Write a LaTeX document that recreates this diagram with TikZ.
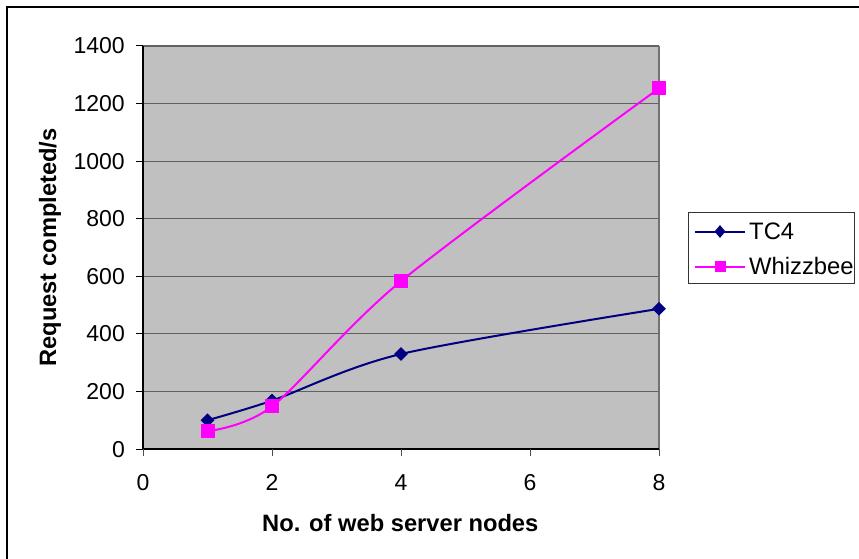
\documentclass[tikz,border=0pt]{standalone}
\usepackage{fontspec}
\setmainfont{Liberation Sans}
\usetikzlibrary{shapes.geometric}
\definecolor{tcblue}{RGB}{0,0,128}
\definecolor{wbmag}{RGB}{255,0,255}
\definecolor{plotgray}{RGB}{192,192,192}
\begin{document}
\begin{tikzpicture}[x=1pt,y=-1pt,
  ticklab/.style={font=\fontsize{23}{27}\selectfont, inner sep=0pt},
  axlab/.style={font=\fontsize{23.7}{28}\selectfont\bfseries, inner sep=0pt},
  grid line/.style={draw=black!62, line width=1.2pt},
  axis line/.style={draw=black, line width=1.3pt},
  tcline/.style={draw=tcblue, line width=2pt},
  wbline/.style={draw=wbmag, line width=2pt},
  tcmark/.style={diamond, fill=tcblue, inner sep=0pt, minimum width=14pt, minimum height=14pt},
  wbmark/.style={rectangle, fill=wbmag, inner sep=0pt, minimum size=14pt},
  tcleg/.style={tcmark, minimum width=11pt, minimum height=13pt},
  wbleg/.style={wbmark, minimum size=11pt}]
\useasboundingbox (0,0) rectangle (859,559);
\fill[white] (0,0) rectangle (859,559);
\begin{scope}
\clip (0,0) rectangle (859,559);
\draw[line width=1.5pt] (7,7) rectangle (880,580);
\end{scope}
% plot area
\fill[plotgray] (143,46) rectangle (659,449);
\foreach \v in {200,400,...,1400}
  \draw[grid line] (143,{449-0.287857*\v}) -- (659,{449-0.287857*\v});
\draw[draw=black!55, line width=1.2pt] (659,46) -- (659,449);
% axes
\draw[axis line] (143,46) -- (143,449) -- (659,449);
\foreach \v in {0,200,...,1400}{
  \draw[line width=1pt] (136,{449-0.287857*\v}) -- (143,{449-0.287857*\v});
  \node[ticklab, anchor=base east] (yl\v) at (125,{449-0.287857*\v+8}) {\v};
}
\foreach \k in {0,2,4,6,8}{
  \draw[line width=1pt, draw=black!70] ({143+64.5*\k},449) -- ({143+64.5*\k},456);
  \node[ticklab, anchor=base] (xl\k) at ({143+64.5*\k},490) {\k};
}
\node[axlab, anchor=base] (xtitle) at (400.3,531.5) {No. of web server nodes};
\node[axlab, anchor=base, rotate=90] (ytitle) at (56,247.5) {Request completed/s};
% data
\coordinate (t1) at ({143+64.5*1},{449-0.287857*100});
\coordinate (t2) at ({143+64.5*2},{449-0.287857*168});
\coordinate (t3) at ({143+64.5*4},{449-0.287857*330});
\coordinate (t4) at ({143+64.5*8},{449-0.287857*487});
\coordinate (w1) at ({143+64.5*1},{449-0.287857*62});
\coordinate (w2) at ({143+64.5*2},{449-0.287857*148});
\coordinate (w3) at ({143+64.5*4},{449-0.287857*583});
\coordinate (w4) at ({143+64.5*8},{449-0.287857*1253});
\draw[tcline] plot[smooth, tension=0.5] coordinates {(t1) (t2) (t3) (t4)};
\draw[wbline] plot[smooth, tension=0.5] coordinates {(w1) (w2) (w3) (w4)};
\foreach \p in {t1,t2,t3,t4} \node[tcmark] (m\p) at (\p) {};
\foreach \p in {w1,w2,w3,w4} \node[wbmark] (m\p) at (\p) {};
% legend
\node[draw=black!80, line width=1pt, minimum width=166.5pt, minimum height=70.5pt, inner sep=0pt, anchor=north west] (legend) at (687.5,212) {};
\coordinate (la1) at (695,231.5);
\coordinate (lb1) at (745,231.5);
\coordinate (la2) at (695,266.5);
\coordinate (lb2) at (745,266.5);
\draw[tcline] (la1) -- (lb1);
\draw[wbline] (la2) -- (lb2);
\node[tcleg] (lm1) at (720,231.5) {};
\node[wbleg] (lm2) at (720,266.5) {};
\node[ticklab, font=\fontsize{23.8}{28}\selectfont, anchor=base west] (lt1) at (749,239.3) {TC4};
\node[ticklab, font=\fontsize{23.8}{28}\selectfont, anchor=base west] (lt2) at (749,274.3) {Whizzbee};
\end{tikzpicture}
\end{document}
